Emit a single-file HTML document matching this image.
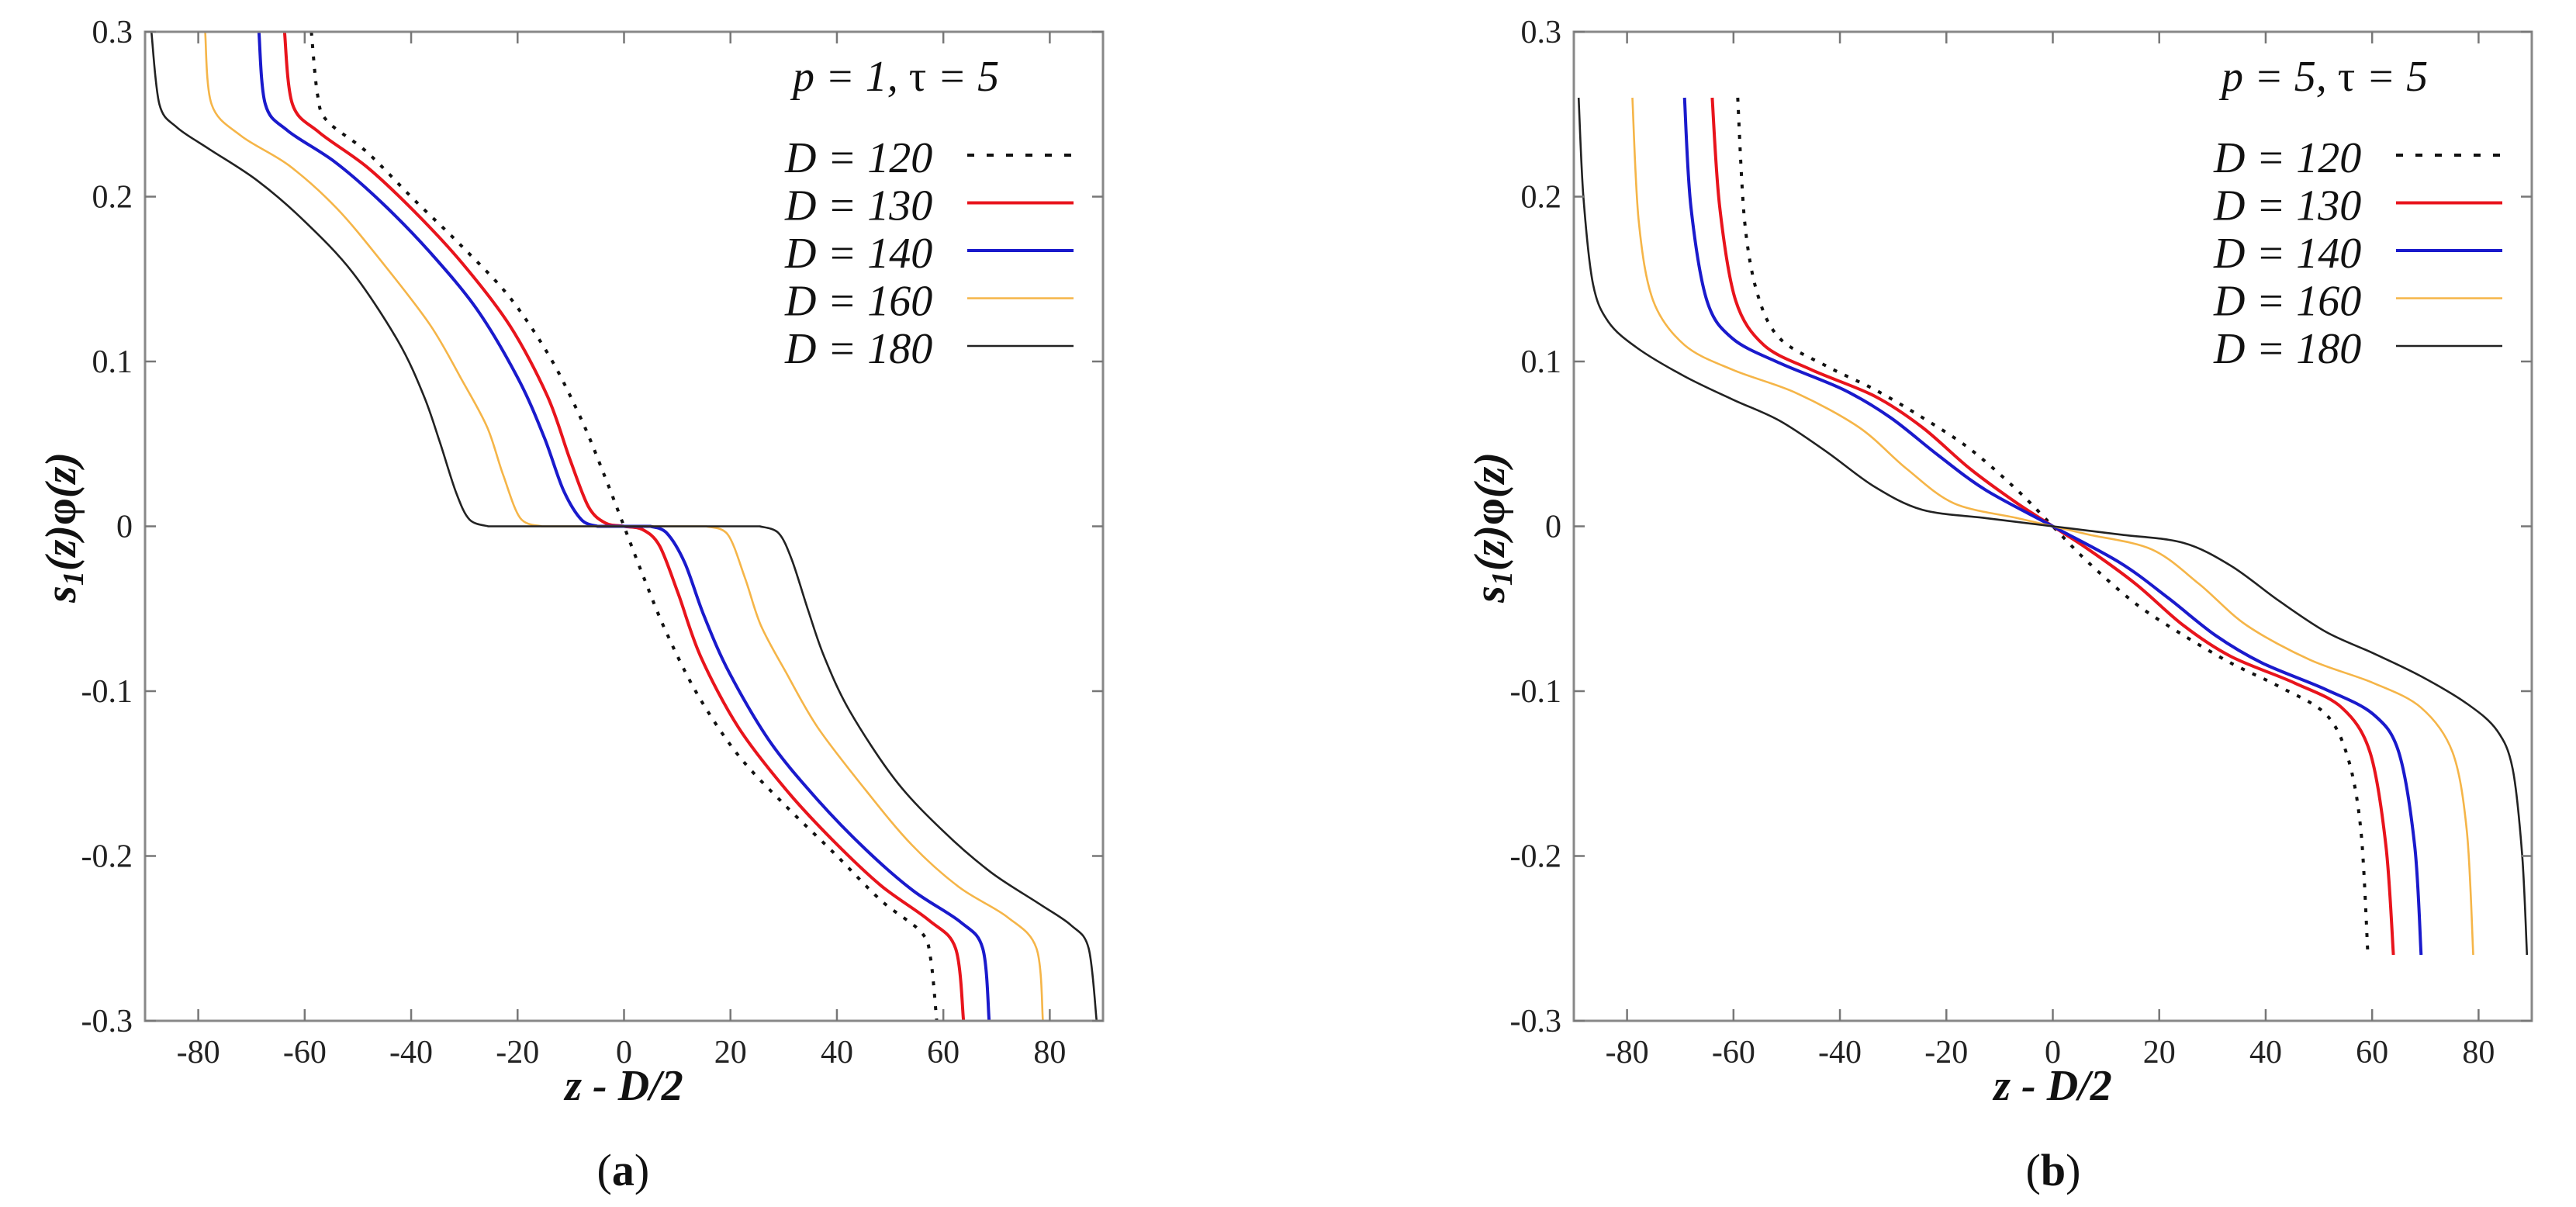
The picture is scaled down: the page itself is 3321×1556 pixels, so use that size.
<!DOCTYPE html>
<html><head><meta charset="utf-8">
<style>
html,body{margin:0;padding:0;background:#fff;}
svg{display:block;font-family:"Liberation Serif",serif;}
</style></head>
<body>
<svg id="chart" width="3321" height="1556" viewBox="0 0 3321 1556"></svg>
<script>
// ---- data ----
const xTicks = [-80,-60,-40,-20,0,20,40,60,80];
const yTicks = [0.3,0.2,0.1,0,-0.1,-0.2,-0.3];
const yTickLabels = ["0.3","0.2","0.1","0","-0.1","-0.2","-0.3"];
const xTickLabels = ["-80","-60","-40","-20","0","20","40","60","80"];
const seriesNames = ["D = 120","D = 130","D = 140","D = 160","D = 180"];
// panel (a): p=1 — upper-left branch (x, y); the curve is antisymmetric
const a120x = [-58.75,-57.6,-55.8,-48.3,-39.4,-30.5,-21.5,-13.8,-7.9,-3.7,0];
const a120y = [0.3,0.262,0.246,0.227,0.198,0.17,0.139,0.102,0.064,0.031,0];
const a130x = [-63.8,-62.3,-57.3,-48.3,-39.4,-30.5,-21.5,-14.4,-10.2,-6.7,-3.5,0];
const a130y = [0.3,0.256,0.239,0.218,0.191,0.16,0.122,0.079,0.041,0.012,0.002,0];
const a140x = [-68.6,-67.4,-63.2,-54.3,-45.4,-36.4,-27.5,-19.8,-15,-11.4,-8,-5];
const a140y = [0.3,0.256,0.24,0.221,0.196,0.166,0.131,0.089,0.054,0.022,0.004,0];
const a160x = [-78.7,-77.5,-72,-63,-54,-45.4,-36.4,-30.5,-25.7,-22.7,-19.5,-15.5];
const a160y = [0.3,0.256,0.237,0.219,0.193,0.16,0.122,0.089,0.06,0.031,0.005,0];
const a180x = [-88.8,-87.3,-84,-78,-69,-60,-51,-42.4,-37.6,-34.6,-31.5,-29,-25.5];
const a180y = [0.3,0.256,0.242,0.229,0.21,0.185,0.154,0.112,0.079,0.051,0.02,0.004,0];
// panel (b): p=5
const b120x = [-59.2,-57.9,-55.5,-51.3,-42.4,-33.5,-24.5,-15.6,-6.7,0];
const b120y = [0.26,0.185,0.141,0.114,0.097,0.083,0.066,0.047,0.022,0];
const b130x = [-64,-62.6,-59.6,-54.3,-45.4,-33.5,-24.5,-15.6,-6.7,0];
const b130y = [0.26,0.194,0.137,0.11,0.095,0.079,0.06,0.035,0.014,0];
const b140x = [-69.2,-68,-65,-60.2,-51.3,-39.4,-30.5,-21.5,-12.6,0];
const b140y = [0.26,0.194,0.137,0.114,0.099,0.083,0.066,0.043,0.022,0];
const b160x = [-79,-77.8,-75.1,-69.2,-60.2,-48.3,-36.4,-27.5,-18.6,-6.7,0];
const b160y = [0.26,0.185,0.137,0.11,0.095,0.081,0.06,0.035,0.014,0.005,0];
const b180x = [-89.1,-88.2,-86.4,-83.5,-78,-69.2,-60.2,-51.3,-42.4,-33.5,-24.5,-12.6,0];
const b180y = [0.26,0.2,0.147,0.124,0.108,0.091,0.077,0.064,0.045,0.024,0.01,0.005,0];

const NS = "http://www.w3.org/2000/svg";
const svg = document.getElementById('chart');
function el(tag, attrs, parent){ const e=document.createElementNS(NS,tag); for(const k in attrs) e.setAttribute(k,attrs[k]); (parent||svg).appendChild(e); return e; }

const styles = [
  {stroke:"#111", w:4, dash:"5 11"},
  {stroke:"#e8141c", w:4, dash:null},
  {stroke:"#1a1acc", w:4, dash:null},
  {stroke:"#f5b548", w:2.6, dash:null},
  {stroke:"#222", w:2.6, dash:null}
];

function segPath(pts, first){
  let d = (first?"M":"L")+pts[0][0].toFixed(1)+","+pts[0][1].toFixed(1);
  for(let i=0;i<pts.length-1;i++){
    const p0=pts[Math.max(0,i-1)], p1=pts[i], p2=pts[i+1], p3=pts[Math.min(pts.length-1,i+2)];
    const t=0.16;
    const c1=[p1[0]+(p2[0]-p0[0])*t, p1[1]+(p2[1]-p0[1])*t];
    const c2=[p2[0]-(p3[0]-p1[0])*t, p2[1]-(p3[1]-p1[1])*t];
    d+=" C"+c1[0].toFixed(1)+","+c1[1].toFixed(1)+" "+c2[0].toFixed(1)+","+c2[1].toFixed(1)+" "+p2[0].toFixed(1)+","+p2[1].toFixed(1);
  }
  return d;
}

function panel(id, left, title, sx, sy, label){
  const L=left, R=left+1235, T=41, B=1316;
  const xs = v => L + (v+90)/180*(R-L);
  const ys = v => T + (0.3-v)/0.6*(B-T);
  const g = el('g',{});
  
  
  const clipId = id+"-clip";
  const cp = el('clipPath',{id:clipId},g); el('rect',{x:L,y:T,width:R-L,height:B-T},cp);
  const sg = el('g',{'clip-path':'url(#'+clipId+')'},g);
  for(let s=0;s<sx.length;s++){
    const leftPts=[], rightPts=[];
    for(let i=0;i<sx[s].length;i++) leftPts.push([xs(sx[s][i]), ys(sy[s][i])]);
    for(let i=sx[s].length-1;i>=0;i--) rightPts.push([xs(-sx[s][i]), ys(-sy[s][i])]);
    let d;
    const lastX = sx[s][sx[s].length-1];
    if(lastX===0){
      d = segPath(leftPts.concat(rightPts.slice(1)), true);
    } else {
      d = segPath(leftPts, true) + " " + segPath(rightPts, false);
    }
    const p = el('path',{d:d,fill:'none',stroke:styles[s].stroke,'stroke-width':styles[s].w,'stroke-linejoin':'round'},sg);
    if(styles[s].dash) p.setAttribute('stroke-dasharray',styles[s].dash);
    
    
  }
  const fr = el('rect',{x:L,y:T,width:R-L,height:B-T,fill:'none',stroke:'#888','stroke-width':3},g);
  
  
  for(let i=0;i<yTicks.length;i++){
    const y=ys(yTicks[i]);
    el('line',{x1:L,x2:L+14,y1:y,y2:y,stroke:'#777','stroke-width':2.5},g);
    el('line',{x1:R,x2:R-14,y1:y,y2:y,stroke:'#777','stroke-width':2.5},g);
    const t=el('text',{x:L-16,y:y+14,'font-size':42,'text-anchor':'end',fill:'#222'},g);
    t.textContent=yTickLabels[i];
    
    
  }
  for(let i=0;i<xTicks.length;i++){
    const x=xs(xTicks[i]);
    el('line',{x1:x,x2:x,y1:B,y2:B-15,stroke:'#777','stroke-width':2.5},g);
    el('line',{x1:x,x2:x,y1:T,y2:T+15,stroke:'#777','stroke-width':2.5},g);
    const t=el('text',{x:x,y:1370,'font-size':42,'text-anchor':'middle',fill:'#222'},g);
    t.textContent=xTickLabels[i];
    
    
  }
  const tt=el('text',{x:R-400,y:117,'font-size':56,'font-style':'italic',fill:'#111'},g);
  tt.innerHTML=title;
  
  
  for(let s=0;s<seriesNames.length;s++){
    const by=222+61.5*s;
    const t=el('text',{x:R-410,y:by,'font-size':56,'font-style':'italic',fill:'#111'},g);
    t.textContent=seriesNames[s];
    
    
    const ln=el('line',{x1:R-175,x2:R-38,y1:by-22,y2:by-22,stroke:styles[s].stroke,'stroke-width':styles[s].w},g);
    if(styles[s].dash) ln.setAttribute('stroke-dasharray','9 16');
    
    
  }
  const xc=xs(0);
  const xt=el('text',{x:xc,y:1418,'font-size':56,'font-style':'italic','font-weight':'bold','text-anchor':'middle',fill:'#111'},g);
  xt.textContent='z - D/2';
  
  
  const yt=el('text',{x:0,y:0,'font-size':56,'font-style':'italic','font-weight':'bold','text-anchor':'middle',fill:'#111',transform:'translate('+(L-90)+',680) rotate(-90)'},g);
  yt.innerHTML='s<tspan font-size="38" dy="10">1</tspan><tspan dy="-10">(z)</tspan><tspan font-style="normal">φ</tspan>(z)';
  
  
  const lb=el('text',{x:xc-35,y:1528,'font-size':58,fill:'#111'},g);
  lb.innerHTML='(<tspan font-weight="bold">'+label+'</tspan>)';
  
  
}

panel('panel-a',187,'p = 1, <tspan font-style="normal">τ</tspan> = 5',
  [a120x,a130x,a140x,a160x,a180x],[a120y,a130y,a140y,a160y,a180y],'a');
panel('panel-b',2029,'p = 5, <tspan font-style="normal">τ</tspan> = 5',
  [b120x,b130x,b140x,b160x,b180x],[b120y,b130y,b140y,b160y,b180y],'b');
</script>
</body></html>
